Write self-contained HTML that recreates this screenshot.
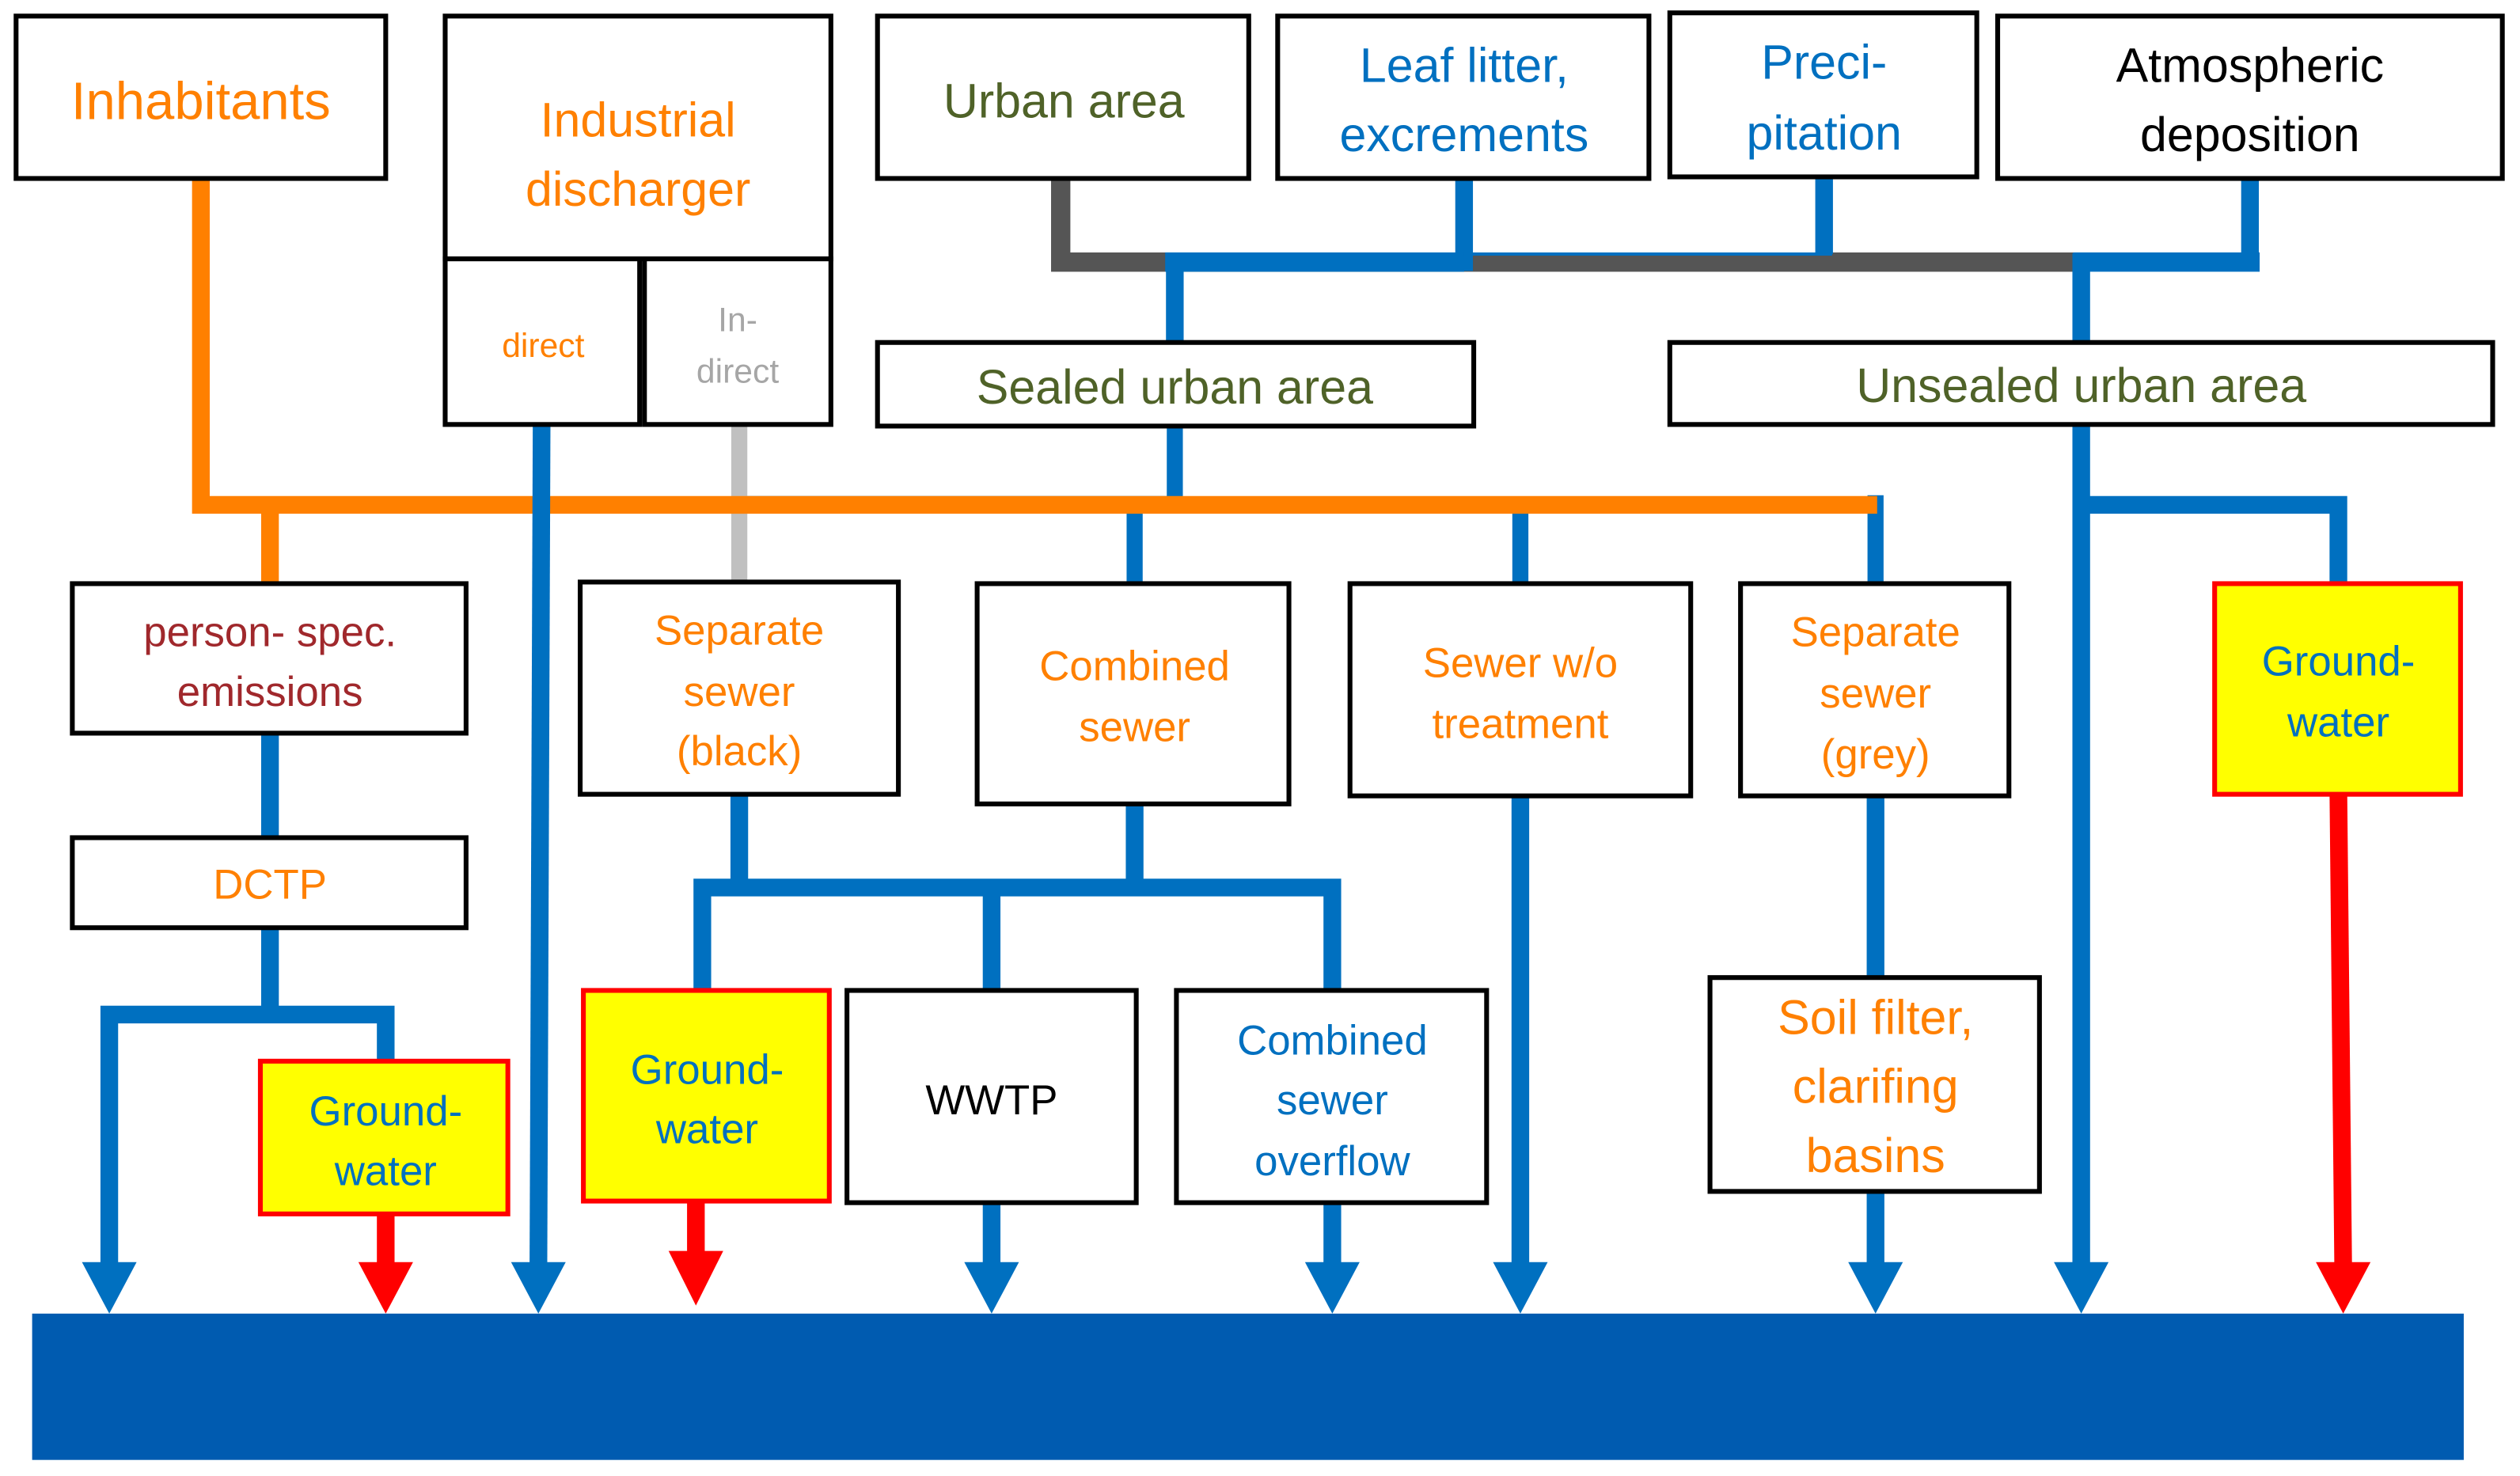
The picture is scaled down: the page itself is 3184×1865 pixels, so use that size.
<!DOCTYPE html>
<html><head><meta charset="utf-8"><style>
html,body{margin:0;padding:0;background:#fff;}
svg{display:block;}
text{font-family:"Liberation Sans",sans-serif;text-anchor:middle;}
</style></head><body>
<svg width="3184" height="1865" viewBox="0 0 1568 918" preserveAspectRatio="none" xmlns="http://www.w3.org/2000/svg">
<g fill="none" stroke-linecap="butt">
<!-- top network -->
<polyline points="660,112 660,163 1290,163" stroke="#555" stroke-width="12"/>
<polyline points="911,112 911,163 731,163 731,213" stroke="#0070c0" stroke-width="11"/>
<rect x="725" y="157" width="186" height="12" fill="#0070c0" stroke="none"/>
<line x1="911" y1="158" x2="1140" y2="158" stroke="#0070c0" stroke-width="2"/>
<line x1="1135" y1="110" x2="1135" y2="158" stroke="#0070c0" stroke-width="11"/>
<polyline points="1400,112 1400,163 1295,163 1295,213" stroke="#0070c0" stroke-width="11"/>
<rect x="1290" y="157" width="116" height="12" fill="#0070c0" stroke="none"/>
<!-- orange -->
<line x1="731" y1="265" x2="731" y2="310" stroke="#0070c0" stroke-width="10"/>
<line x1="460" y1="264" x2="460" y2="362" stroke="#c0c0c0" stroke-width="10"/>
<line x1="465" y1="309" x2="731" y2="309" stroke="#0070c0" stroke-width="1"/>
<line x1="706" y1="313" x2="706" y2="363" stroke="#0070c0" stroke-width="10"/>
<line x1="946" y1="313" x2="946" y2="363" stroke="#0070c0" stroke-width="10"/>
<line x1="1167" y1="308" x2="1167" y2="363" stroke="#0070c0" stroke-width="10"/>
<polyline points="125,111 125,314 1168,314" stroke="#ff8000" stroke-width="11"/>
<line x1="168" y1="314" x2="168" y2="363" stroke="#ff8000" stroke-width="11"/>
<!-- direct -->
<line x1="337" y1="264" x2="335" y2="790" stroke="#0070c0" stroke-width="11"/>
<!-- unsealed -->
<line x1="1295" y1="264" x2="1295" y2="790" stroke="#0070c0" stroke-width="11"/>
<polyline points="1295,314 1455,314 1455,363" stroke="#0070c0" stroke-width="11"/>
<!-- left -->
<line x1="168" y1="456" x2="168" y2="521" stroke="#0070c0" stroke-width="11"/>
<polyline points="68,790 68,631 240,631 240,660" stroke="#0070c0" stroke-width="11"/>
<line x1="168" y1="577" x2="168" y2="631" stroke="#0070c0" stroke-width="11"/>
<line x1="240" y1="755" x2="240" y2="790" stroke="#ff0000" stroke-width="11"/>
<!-- mid tree -->
<line x1="460" y1="494" x2="460" y2="552" stroke="#0070c0" stroke-width="11"/>
<line x1="706" y1="500" x2="706" y2="552" stroke="#0070c0" stroke-width="11"/>
<polyline points="437,616 437,552 829,552 829,616" stroke="#0070c0" stroke-width="11"/>
<line x1="617" y1="552" x2="617" y2="616" stroke="#0070c0" stroke-width="11"/>
<line x1="433" y1="747" x2="433" y2="785" stroke="#ff0000" stroke-width="11"/>
<line x1="617" y1="748" x2="617" y2="790" stroke="#0070c0" stroke-width="11"/>
<line x1="829" y1="748" x2="829" y2="790" stroke="#0070c0" stroke-width="11"/>
<line x1="946" y1="495" x2="946" y2="790" stroke="#0070c0" stroke-width="11"/>
<line x1="1167" y1="495" x2="1167" y2="608" stroke="#0070c0" stroke-width="11"/>
<line x1="1167" y1="741" x2="1167" y2="790" stroke="#0070c0" stroke-width="11"/>
<line x1="1455" y1="494" x2="1458" y2="790" stroke="#ff0000" stroke-width="11"/>
</g>
<!-- arrowheads -->
<g stroke="none">
<polygon points="51,785 85,785 68,817" fill="#0070c0"/>
<polygon points="223,785 257,785 240,817" fill="#ff0000"/>
<polygon points="318,785 352,785 335,817" fill="#0070c0"/>
<polygon points="416,778 450,778 433,812" fill="#ff0000"/>
<polygon points="600,785 634,785 617,817" fill="#0070c0"/>
<polygon points="812,785 846,785 829,817" fill="#0070c0"/>
<polygon points="929,785 963,785 946,817" fill="#0070c0"/>
<polygon points="1150,785 1184,785 1167,817" fill="#0070c0"/>
<polygon points="1278,785 1312,785 1295,817" fill="#0070c0"/>
<polygon points="1441,785 1475,785 1458,817" fill="#ff0000"/>
<rect x="20" y="817" width="1513" height="91" fill="#005bb0"/>
</g>
<!-- boxes -->
<g fill="#fff" stroke="#000" stroke-width="3">
<rect x="10" y="10" width="230" height="101"/>
<rect x="277" y="10" width="240" height="151"/>
<rect x="277" y="161" width="121" height="103"/>
<rect x="401" y="161" width="116" height="103"/>
<rect x="546" y="10" width="231" height="101"/>
<rect x="795" y="10" width="231" height="101"/>
<rect x="1039" y="8" width="191" height="102"/>
<rect x="1243" y="10" width="314" height="101"/>
<rect x="546" y="213" width="371" height="52"/>
<rect x="1039" y="213" width="512" height="51"/>
<rect x="45" y="363" width="245" height="93"/>
<rect x="361" y="362" width="198" height="132"/>
<rect x="608" y="363" width="194" height="137"/>
<rect x="840" y="363" width="212" height="132"/>
<rect x="1083" y="363" width="167" height="132"/>
<rect x="45" y="521" width="245" height="56"/>
<rect x="527" y="616" width="180" height="132"/>
<rect x="732" y="616" width="193" height="132"/>
<rect x="1064" y="608" width="205" height="133"/>
</g>
<g fill="#ffff00" stroke="#ff0000" stroke-width="3">
<rect x="1378" y="363" width="153" height="131"/>
<rect x="162" y="660" width="154" height="95"/>
<rect x="363" y="616" width="153" height="131"/>
</g>
<!-- text -->
<g font-size="30">
<text x="125" y="74" fill="#ff8000" font-size="33">Inhabitants</text>
<text x="397" y="85" fill="#ff8000">Industrial</text>
<text x="397" y="128" fill="#ff8000">discharger</text>
<text x="338" y="222" fill="#ff8000" font-size="21">direct</text>
<text x="459" y="206" fill="#a6a6a6" font-size="21">In-</text>
<text x="459" y="238" fill="#a6a6a6" font-size="21">direct</text>
<text x="662" y="73" fill="#4f6228">Urban area</text>
<text x="911" y="51" fill="#0070c0">Leaf litter,</text>
<text x="911" y="94" fill="#0070c0">excrements</text>
<text x="1135" y="49" fill="#0070c0">Preci-</text>
<text x="1135" y="93" fill="#0070c0">pitation</text>
<text x="1400" y="51" fill="#000">Atmospheric</text>
<text x="1400" y="94" fill="#000">deposition</text>
<text x="731" y="251" fill="#4f6228">Sealed urban area</text>
<text x="1295" y="250" fill="#4f6228">Unsealed urban area</text>
<g font-size="26">
<text x="168" y="402" fill="#a0282c">person- spec.</text>
<text x="168" y="439" fill="#a0282c">emissions</text>
<text x="460" y="401" fill="#ff8000">Separate</text>
<text x="460" y="439" fill="#ff8000">sewer</text>
<text x="460" y="476" fill="#ff8000">(black)</text>
<text x="706" y="423" fill="#ff8000">Combined</text>
<text x="706" y="461" fill="#ff8000">sewer</text>
<text x="946" y="421" fill="#ff8000">Sewer w/o</text>
<text x="946" y="459" fill="#ff8000">treatment</text>
<text x="1167" y="402" fill="#ff8000">Separate</text>
<text x="1167" y="440" fill="#ff8000">sewer</text>
<text x="1167" y="478" fill="#ff8000">(grey)</text>
<text x="1455" y="420" fill="#0070c0">Ground-</text>
<text x="1455" y="458" fill="#0070c0">water</text>
<text x="168" y="559" fill="#ff8000">DCTP</text>
<text x="240" y="700" fill="#0070c0">Ground-</text>
<text x="240" y="737" fill="#0070c0">water</text>
<text x="440" y="674" fill="#0070c0">Ground-</text>
<text x="440" y="711" fill="#0070c0">water</text>
<text x="617" y="693" fill="#000">WWTP</text>
<text x="829" y="656" fill="#0070c0">Combined</text>
<text x="829" y="693" fill="#0070c0">sewer</text>
<text x="829" y="731" fill="#0070c0">overflow</text>
</g>
<text x="1167" y="643" fill="#ff8000">Soil filter,</text>
<text x="1167" y="686" fill="#ff8000">clarifing</text>
<text x="1167" y="729" fill="#ff8000">basins</text>
</g>
</svg>
</body></html>
